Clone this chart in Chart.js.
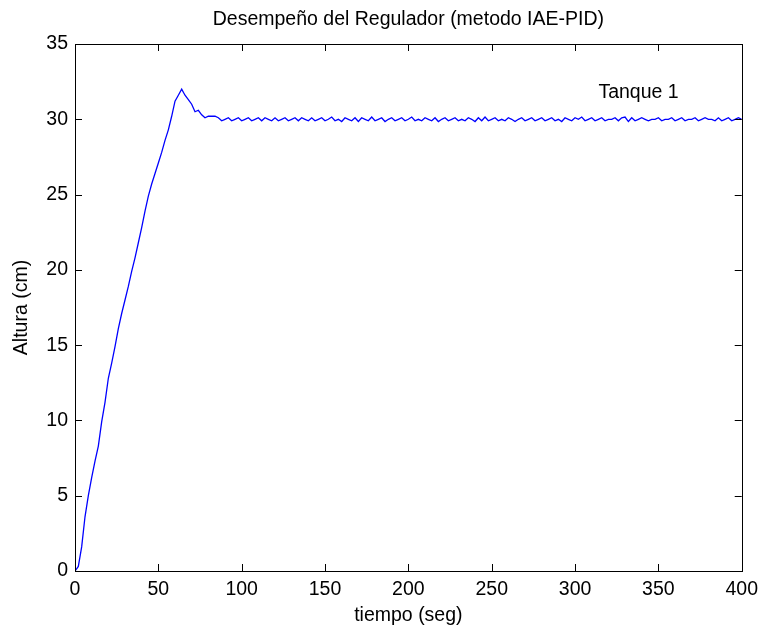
<!DOCTYPE html>
<html>
<head>
<meta charset="utf-8">
<title>Desempeño del Regulador</title>
<script src="https://cdn.jsdelivr.net/npm/chart.js@4.4.1/dist/chart.umd.min.js"></script>
<style>
  html, body { margin: 0; padding: 0; background: #fff; }
  #wrap { width: 765px; height: 633px; position: relative; }
</style>
</head>
<body>
<div id="wrap"><canvas id="chart-tanque"></canvas></div>
<script>
// tiempo de muestreo (seg)
const dt = 2;

// nivel del tanque 1 (cm), una muestra cada dt segundos desde t = 0
const subida = [
    0.0, 0.3, 1.6, 3.6, 5.0, 6.2, 7.3, 8.3, 9.9, 11.2,
    12.8, 13.8, 14.9, 16.1, 17.1, 18.0, 18.9, 19.9, 20.8, 21.8,
    22.8, 23.9, 24.9, 25.7, 26.4, 27.1, 27.8, 28.6, 29.3, 30.2,
    31.2, 31.6, 32.0, 31.6, 31.3, 31.0, 30.5, 30.6, 30.3, 30.1,
    30.2, 30.2, 30.2, 30.1
];
const regimen = [
    29.9, 30.0, 30.1, 29.9, 30.0, 30.1, 29.9, 30.0, 30.1, 29.9,
    30.0, 30.1, 29.9, 30.1, 30.0, 29.9, 30.1, 29.9, 30.0, 30.1,
    29.9, 30.0, 30.1, 29.9, 30.1, 30.0, 29.9, 30.1, 29.9, 30.0,
    30.1, 29.9, 30.0, 30.15, 29.9, 30.0, 29.85, 30.1, 30.0, 29.9,
    30.1, 29.85, 30.1, 30.0, 29.9, 30.15, 29.9, 30.0, 30.1, 29.85,
    30.0, 30.1, 29.9, 30.0, 30.1, 29.9, 30.0, 30.15, 29.9, 30.0,
    29.9, 30.1, 30.0, 29.9, 30.1, 29.85, 30.0, 30.1, 29.9, 30.0,
    30.1, 29.9, 30.0, 29.9, 30.1, 30.0, 29.85, 30.1, 29.9, 30.15,
    29.9, 30.0, 30.1, 29.9, 30.0, 29.9, 30.1, 30.0, 29.85, 30.0,
    30.1, 29.9, 30.0, 30.1, 29.9, 30.0, 30.1, 29.9, 30.0, 30.1,
    29.9, 30.0, 29.85, 30.1, 30.0, 29.9, 30.1, 30.0, 30.15, 29.9,
    30.0, 30.1, 29.9, 30.0, 30.1, 29.9, 30.0, 30.0, 30.1, 29.9,
    30.1, 30.15, 29.85, 30.1, 29.9, 30.0, 30.1, 30.0, 29.9, 30.0,
    30.0, 30.1, 29.9, 30.0, 30.0, 30.1, 29.9, 30.0, 30.1, 29.9,
    30.0, 30.0, 30.1, 29.9, 30.0, 30.1, 30.0, 30.0, 29.9, 30.1,
    29.9, 30.0, 30.1, 29.9, 30.0, 30.1, 30.0
];
const nivel = subida.concat(regimen);

const xTicks = [0, 50, 100, 150, 200, 250, 300, 350, 400];
const yTicks = [0, 5, 10, 15, 20, 25, 30, 35];

const titulo = 'Desempeño del Regulador (metodo IAE-PID)';
const etiqueta = { texto: 'Tanque 1', t: 314, h: 31.8 };

const FONT = "'Liberation Sans', Arial, Helvetica, sans-serif";
const FSIZE = 19.5;

// caja cerrada con marcas hacia dentro en los cuatro lados,
// título centrado sobre los ejes y texto junto a la curva
const matlabAxes = {
    id: 'matlabAxes',
    afterDatasetsDraw(chart) {
        const { ctx, chartArea: a, scales: { x, y } } = chart;
        const len = 7;
        ctx.save();
        ctx.strokeStyle = '#000';
        ctx.lineWidth = 1;
        ctx.beginPath();
        xTicks.forEach(v => {
            const px = Math.round(x.getPixelForValue(v)) + 0.5;
            ctx.moveTo(px, a.bottom); ctx.lineTo(px, a.bottom - len);
            ctx.moveTo(px, a.top); ctx.lineTo(px, a.top + len);
        });
        yTicks.forEach(v => {
            const py = Math.round(y.getPixelForValue(v)) + 0.5;
            ctx.moveTo(a.left, py); ctx.lineTo(a.left + len, py);
            ctx.moveTo(a.right, py); ctx.lineTo(a.right - len, py);
        });
        ctx.stroke();
        ctx.strokeRect(Math.round(a.left) + 0.5, Math.round(a.top) + 0.5,
            Math.round(a.right - a.left), Math.round(a.bottom - a.top));

        ctx.fillStyle = '#000';
        ctx.font = FSIZE + 'px ' + FONT;
        ctx.textBaseline = 'middle';
        ctx.textAlign = 'center';
        ctx.fillText(titulo, (a.left + a.right) / 2, a.top - 24);
        ctx.textAlign = 'left';
        ctx.fillText(etiqueta.texto, x.getPixelForValue(etiqueta.t), y.getPixelForValue(etiqueta.h));
        ctx.restore();
    }
};

new Chart(document.getElementById('chart-tanque'), {
    type: 'line',
    data: {
        datasets: [{
            label: 'Tanque 1',
            data: nivel.map((v, i) => ({ x: i * dt, y: v })),
            borderColor: '#0000ff',
            borderWidth: 1.3,
            pointRadius: 0,
            tension: 0,
            fill: false,
        }],
    },
    options: {
        responsive: true,
        maintainAspectRatio: false,
        animation: false,
        layout: { padding: { left: 0, right: 18, top: 44, bottom: 0 } },
        plugins: {
            legend: { display: false },
            tooltip: { enabled: false },
            title: { display: false },
        },
        scales: {
            x: {
                type: 'linear',
                min: 0,
                max: 400,
                afterBuildTicks: s => { s.ticks = xTicks.map(v => ({ value: v })); },
                afterFit: s => { s.height = 62; },
                grid: { display: false, drawTicks: false },
                border: { display: false },
                ticks: { color: '#000', padding: 7, maxRotation: 0, font: { family: FONT, size: FSIZE } },
                title: {
                    display: true,
                    text: 'tiempo (seg)',
                    color: '#000',
                    font: { family: FONT, size: FSIZE },
                    padding: { top: 0, bottom: 6 },
                },
            },
            y: {
                type: 'linear',
                min: 0,
                max: 35,
                afterBuildTicks: s => { s.ticks = yTicks.map(v => ({ value: v })); },
                afterFit: s => { s.width = 75; },
                grid: { display: false, drawTicks: false },
                border: { display: false },
                ticks: { color: '#000', padding: 7, font: { family: FONT, size: FSIZE } },
                title: {
                    display: true,
                    text: 'Altura (cm)',
                    color: '#000',
                    font: { family: FONT, size: FSIZE },
                    padding: { top: 10, bottom: 0 },
                },
            },
        },
    },
    plugins: [matlabAxes],
});
</script>
</body>
</html>
